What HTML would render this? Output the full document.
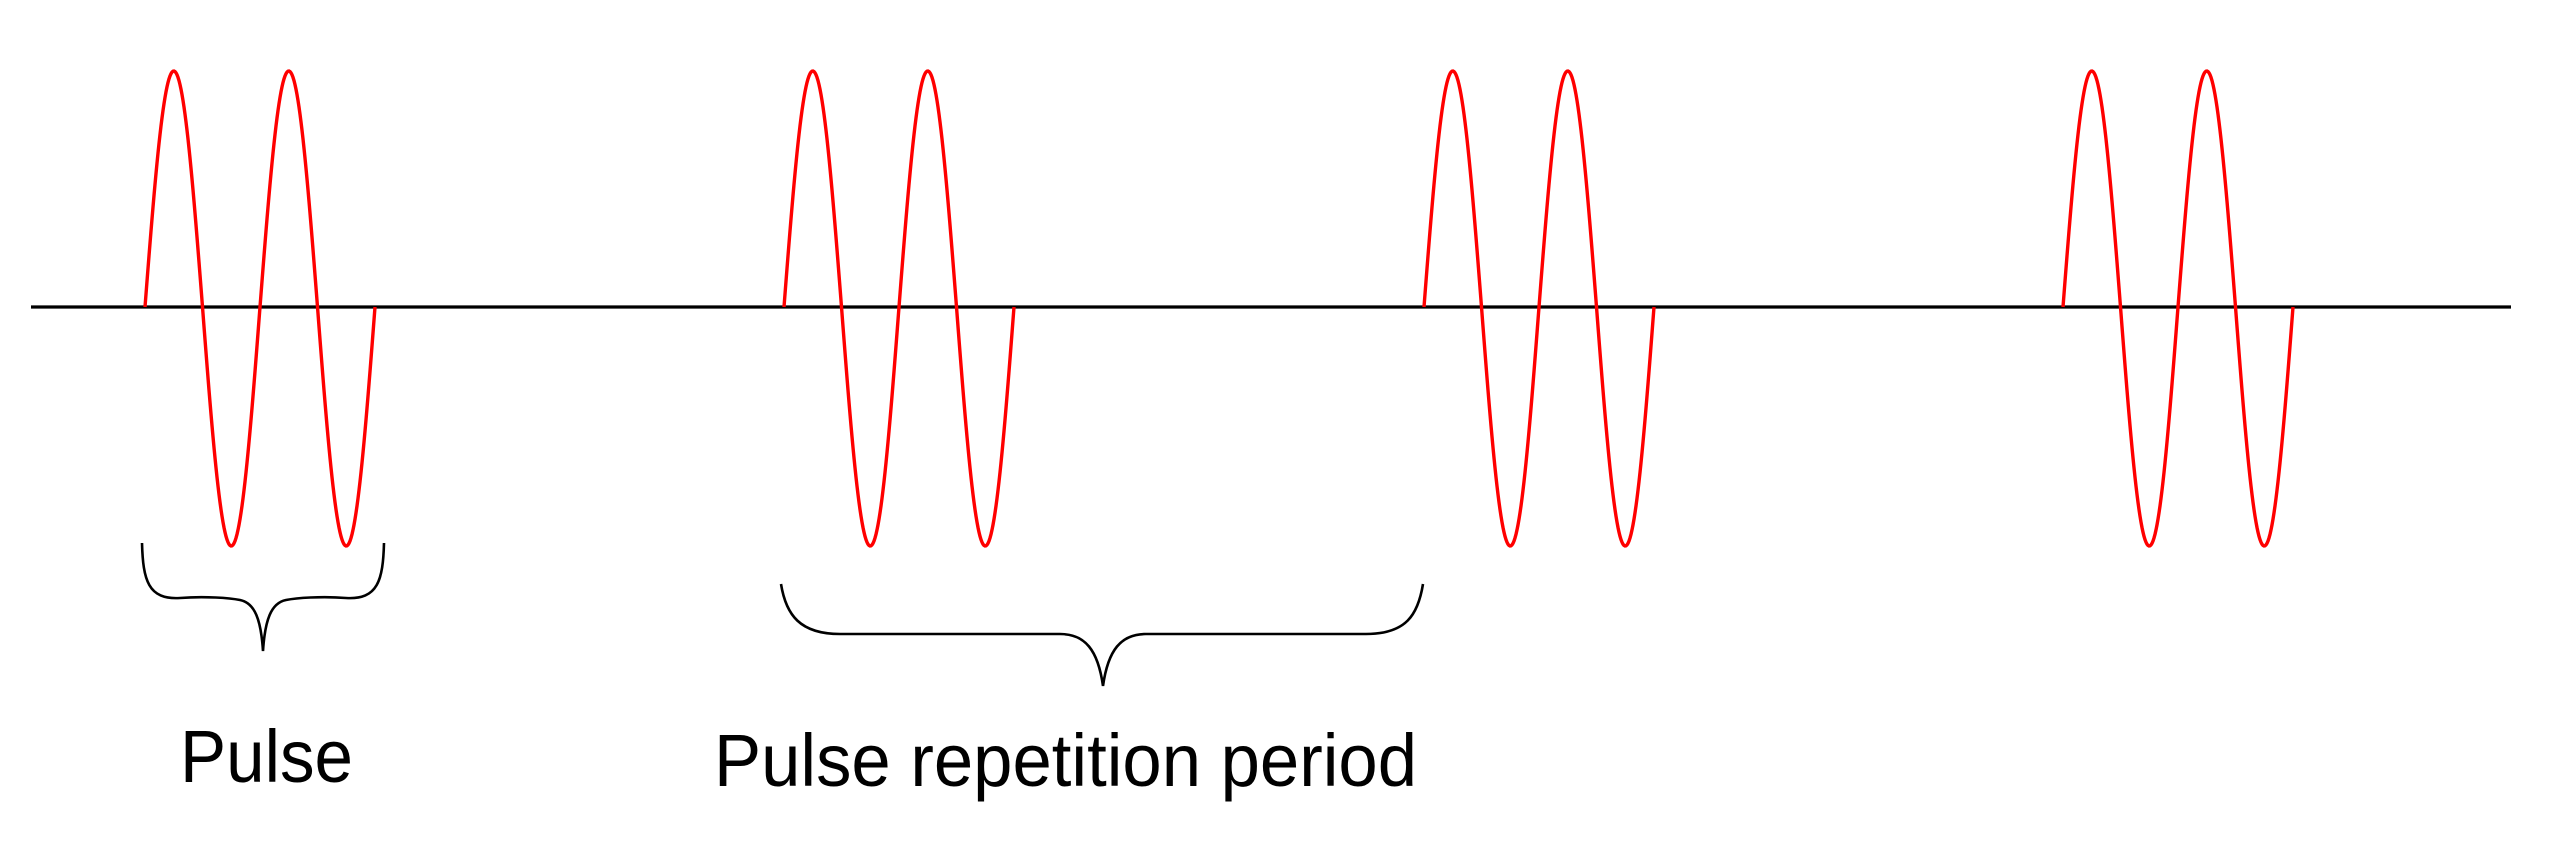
<!DOCTYPE html>
<html><head><meta charset="utf-8"><style>html,body{margin:0;padding:0;background:#fff}svg{display:block}</style></head>
<body>
<svg width="2560" height="857" viewBox="0 0 2560 857" xmlns="http://www.w3.org/2000/svg">
<defs>
<path id="p" fill="none" stroke="#ff0000" stroke-width="3.4" d="M0,0 C7,-120 13,-236 28.75,-236 C44.5,-236 50.5,-120 57.5,0 C64.5,122 70.5,239 86.25,239 C102,239 108,122 115,0 C122,-120 128,-236 143.75,-236 C159.5,-236 165.5,-120 172.5,0 C179.5,122 185.5,239 201.25,239 C217,239 223,122 230,0"/>
</defs>
<line x1="31" y1="307" x2="2511" y2="307" stroke="#000" stroke-width="3.2"/>
<use href="#p" transform="translate(145,307)"/>
<use href="#p" transform="translate(784,307)"/>
<use href="#p" transform="translate(1424,307)"/>
<use href="#p" transform="translate(2063,307)"/>
<path fill="none" stroke="#000" stroke-width="2.6" d="M142,543 C143,580 148,600 180,598 C205,596 230,598 240,600 C255,603 261,620 263,651 C265,620 271,603 286,600 C296,598 321,596 346,598 C378,600 383,580 384,543"/>
<path fill="none" stroke="#000" stroke-width="2.6" d="M781,584 C786,615 800,634 840,634 L1060,634 C1085,634 1098,650 1103,686 C1108,650 1121,634 1146,634 L1366,634 C1406,634 1418,615 1423,584"/>
<text x="180" y="782" font-family="Liberation Sans, sans-serif" font-size="74" textLength="173" lengthAdjust="spacingAndGlyphs">Pulse</text>
<text x="714" y="786" font-family="Liberation Sans, sans-serif" font-size="74" textLength="703" lengthAdjust="spacingAndGlyphs">Pulse repetition period</text>
</svg>
<script>
(function(){var d="";for(var i=0;i<=230;i+=1){var t=i/115*2*Math.PI;var s=Math.sin(t);var y=s>0?-236*s:-239*s;d+=(i?"L":"M")+i+","+y.toFixed(2);}document.getElementById("p").setAttribute("d",d);})();
</script>
</body></html>
